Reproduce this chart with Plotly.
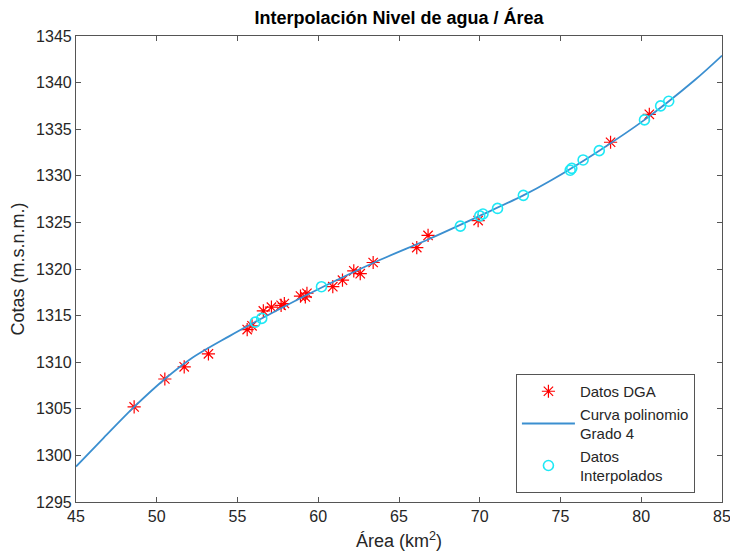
import plotly.graph_objects as go

# Datos DGA (red asterisks)
dga_area = [48.6, 50.5, 51.7, 53.2, 55.6, 55.9, 56.6, 57.1, 57.7, 57.9, 58.9, 59.2, 59.3,
            60.9, 61.5, 62.2, 62.6, 63.4, 66.1, 66.8, 69.9, 78.1, 80.5]
dga_cota = [1305.2, 1308.2, 1309.5, 1310.9, 1313.5, 1313.9, 1315.5, 1315.9, 1316.1, 1316.3,
            1317.1, 1317.0, 1317.4, 1318.1, 1318.8, 1319.8, 1319.5, 1320.7, 1322.3, 1323.6,
            1325.2, 1333.6, 1336.6]

# Curva polinomio grado 4
curve_area = [45, 46.7, 48.6, 50.5, 52.05, 54.5, 56.4, 59.5, 63.6, 66.9, 70.0, 72.7, 74.4,
              77.4, 80.2, 83.3, 85]
curve_cota = [1298.8, 1301.85, 1305.2, 1308.2, 1310.3, 1312.8, 1314.6, 1317.4, 1320.8,
              1323.25, 1325.7, 1327.9, 1329.5, 1332.7, 1336.0, 1340.25, 1342.9]

# Datos interpolados (cyan circles)
interp_area = [56.1, 56.5, 60.2, 68.8, 70.0, 70.2, 71.1, 72.7, 75.6, 75.7, 76.4, 77.4,
               80.2, 81.2, 81.7]
interp_cota = [1314.3, 1314.7, 1318.1, 1324.6, 1325.7, 1325.9, 1326.5, 1327.9, 1330.6,
               1330.8, 1331.7, 1332.7, 1336.0, 1337.5, 1338.0]

x_ticks = [45, 50, 55, 60, 65, 70, 75, 80, 85]
y_ticks = [1295, 1300, 1305, 1310, 1315, 1320, 1325, 1330, 1335, 1340, 1345]

FONT = "Liberation Sans, Arial, Helvetica, sans-serif"
AX = "#555555"
TXT = "#262626"

fig = go.Figure()
fig.add_trace(go.Scatter(
    x=dga_area, y=dga_cota, mode="markers", name="Datos DGA",
    marker=dict(symbol="asterisk-open", size=11, color="red",
                line=dict(color="red", width=1.2)),
))
fig.add_trace(go.Scatter(
    x=curve_area, y=curve_cota, mode="lines", name="Curva polinomio<br>Grado 4",
    line=dict(color="#3b8fd0", width=1.8, shape="spline", smoothing=1.0),
))
fig.add_trace(go.Scatter(
    x=interp_area, y=interp_cota, mode="markers", name="Datos<br>Interpolados",
    marker=dict(symbol="circle-open", size=10, color="#1ee8f5",
                line=dict(color="#1ee8f5", width=1.6)),
))

axis_common = dict(
    showgrid=False, zeroline=False, showline=True, linecolor=AX, linewidth=1.2,
    mirror="ticks", ticks="inside", ticklen=5, tickcolor=AX, tickwidth=1,
    tickfont=dict(family=FONT, size=16, color=TXT), automargin=False,
)

fig.update_layout(
    width=730, height=560,
    margin=dict(l=76, r=8, t=36, b=58),
    paper_bgcolor="white", plot_bgcolor="white",
    title=dict(text="<b>Interpolación Nivel de agua / Área</b>", xref="paper", x=0.5,
               xanchor="center", yref="container", y=1 - 18 / 560, yanchor="middle",
               font=dict(family=FONT, size=18, color="black")),
    xaxis=dict(range=[45, 85], tickvals=x_ticks, ticktext=[str(v) for v in x_ticks],
               ticklabeloverflow="allow",
               title=dict(text="Área (km<sup>2</sup>)", standoff=10,
                          font=dict(family=FONT, size=18, color=TXT)),
               **axis_common),
    yaxis=dict(range=[1295, 1345], tickvals=y_ticks, ticktext=[str(v) for v in y_ticks],
               title=dict(text="Cotas (m.s.n.m.)", standoff=6,
                          font=dict(family=FONT, size=18, color=TXT)),
               **axis_common),
    legend=dict(x=0.681, y=0.2747, xanchor="left", yanchor="top",
                bgcolor="white", bordercolor=AX, borderwidth=1,
                font=dict(family=FONT, size=15, color=TXT),
                tracegroupgap=0, itemwidth=53),
    showlegend=True,
)

fig.write_html("out.html", config={"displayModeBar": False},
               post_script="document.body.style.margin='0';")
